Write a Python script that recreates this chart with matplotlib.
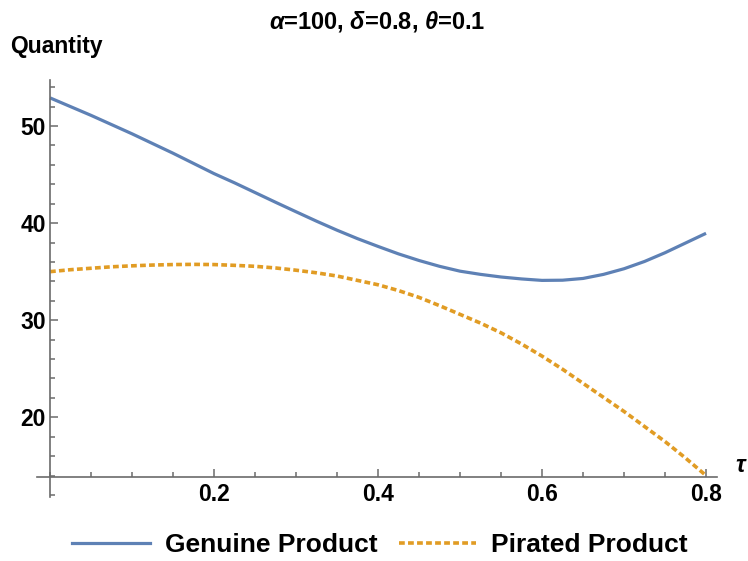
import matplotlib
matplotlib.use("Agg")
import matplotlib.pyplot as plt
from matplotlib.lines import Line2D
from matplotlib.ticker import MultipleLocator, FixedLocator

plt.rcParams['font.family'] = ['Liberation Sans', 'DejaVu Sans']
plt.rcParams['font.weight'] = 'bold'
plt.rcParams['mathtext.fontset'] = 'custom'
plt.rcParams['mathtext.rm'] = 'Liberation Sans:bold'
plt.rcParams['mathtext.it'] = 'Liberation Sans:italic:bold'
plt.rcParams['mathtext.bf'] = 'Liberation Sans:bold'

# ---- data ----
tau = [0.000, 0.025, 0.050, 0.075, 0.100, 0.125, 0.150, 0.175, 0.200, 0.225,
       0.250, 0.275, 0.300, 0.325, 0.350, 0.375, 0.400, 0.425, 0.450, 0.475,
       0.500, 0.525, 0.550, 0.575, 0.600, 0.625, 0.650, 0.675, 0.700, 0.725,
       0.750, 0.775, 0.800]
genuine = [52.9, 52.0, 51.1, 50.15, 49.2, 48.2, 47.2, 46.15, 45.1, 44.15,
           43.15, 42.15, 41.17, 40.2, 39.27, 38.4, 37.6, 36.83, 36.15, 35.55,
           35.05, 34.72, 34.45, 34.25, 34.1, 34.12, 34.3, 34.72, 35.3, 36.05,
           36.95, 37.95, 38.95]
pirated = [35.0, 35.2, 35.35, 35.5, 35.6, 35.68, 35.73, 35.75, 35.73, 35.65,
           35.55, 35.38, 35.15, 34.88, 34.55, 34.1, 33.65, 33.05, 32.35, 31.5,
           30.6, 29.7, 28.7, 27.55, 26.3, 24.95, 23.5, 22.05, 20.6, 19.05,
           17.5, 15.8, 14.0]
series_labels = ["Genuine Product", "Pirated Product"]
x_major = [0.2, 0.4, 0.6, 0.8]
x_major_labels = ["0.2", "0.4", "0.6", "0.8"]
y_major = [20, 30, 40, 50]
title = r"$\mathit{\alpha}$=100, $\mathit{\delta}$=0.8, $\mathit{\theta}$=0.1"

blue = "#5E81B5"
orange = "#E19C24"
axis_col = "#6b6b6b"

W, H = 748, 561
fig = plt.figure(figsize=(W / 100, H / 100), dpi=100)
ax = fig.add_axes([36.7 / W, (H - 497) / H, 680 / W, 417 / H])
ax.set_xlim(-0.0162, 0.813)
ax.set_ylim(11.79, 54.74)

ax.plot(tau, genuine, color=blue, lw=2.3, solid_capstyle='butt')
ax.plot(tau, pirated, color=orange, lw=2.6, dashes=(1.6, 0.9))

for s in ['top', 'right']:
    ax.spines[s].set_visible(False)
ax.spines['left'].set_position(('data', 0))
ax.spines['bottom'].set_position(('data', 13.85))
for s in ['left', 'bottom']:
    ax.spines[s].set_color(axis_col)
    ax.spines[s].set_linewidth(1.2)

ax.xaxis.set_major_locator(FixedLocator(x_major))
ax.set_xticklabels(x_major_labels)
ax.xaxis.set_minor_locator(MultipleLocator(0.05))
ax.yaxis.set_major_locator(FixedLocator(y_major))
ax.yaxis.set_minor_locator(MultipleLocator(2))

ax.tick_params(which='both', direction='in', color=axis_col, width=1.1,
               labelsize=16.5, labelcolor='black')
ax.tick_params(which='major', length=6)
ax.tick_params(which='minor', length=3.5)
ax.tick_params(axis='x', pad=4)
ax.tick_params(axis='y', pad=3)
for lab in ax.get_xticklabels() + ax.get_yticklabels():
    lab.set_fontweight('bold')

fig.text(377 / W, 1 - 22 / H, title, ha='center', va='center', fontsize=17)
fig.text(10 / W, 1 - 47 / H, "Quantity", ha='left', va='center',
         fontsize=16.5, fontweight='bold')
fig.text(740 / W, 1 - 466 / H, "τ", ha='center', va='center', fontsize=17,
         fontweight='bold', style='italic')

handles = [Line2D([], [], color=blue, lw=2.3),
           Line2D([], [], color=orange, lw=2.6, dashes=(1.6, 0.9))]
fig.legend(handles, series_labels, loc='center', bbox_to_anchor=(380 / W, 1 - 545 / H),
           ncol=2, frameon=False, handlelength=2.95,
           handletextpad=0.56, columnspacing=0.8,
           prop={'weight': 'bold', 'size': 19})

fig.savefig("out.png", dpi=100)
